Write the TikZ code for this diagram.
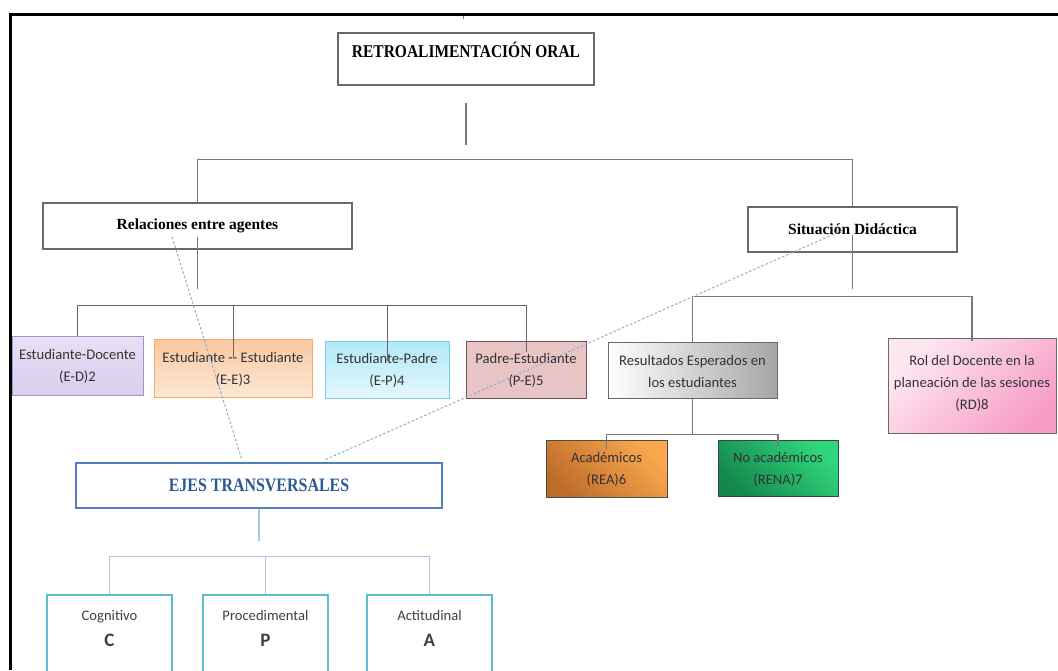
\documentclass[tikz,border=0pt]{standalone}
\usepackage{fontspec}
\setmainfont{Liberation Serif}
\newfontfamily\calib{Carlito}
\newfontfamily\condserif[FakeStretch=0.86]{Liberation Serif}
\newfontfamily\ejesserif[FakeStretch=0.84]{Liberation Serif}
\usetikzlibrary{positioning, calc, backgrounds}
\usepackage{xcolor}
\definecolor{boxgray}{RGB}{105,105,105}
\definecolor{linkgray}{RGB}{120,120,120}
\definecolor{edtop}{RGB}{232,224,244}
\definecolor{edbot}{RGB}{218,204,238}
\definecolor{edline}{RGB}{165,145,205}
\definecolor{eetop}{RGB}{250,200,160}
\definecolor{eebot}{RGB}{253,232,214}
\definecolor{eeline}{RGB}{244,170,110}
\definecolor{eptop}{RGB}{178,233,247}
\definecolor{epbot}{RGB}{228,248,253}
\definecolor{epline}{RGB}{120,205,230}
\definecolor{pefill}{RGB}{232,196,196}
\definecolor{peline}{RGB}{110,82,82}
\definecolor{acadark}{RGB}{190,108,42}
\definecolor{acalight}{RGB}{250,168,78}
\definecolor{nadark}{RGB}{20,135,75}
\definecolor{nalight}{RGB}{48,214,124}
\definecolor{rollight}{RGB}{253,232,242}
\definecolor{roldark}{RGB}{246,158,198}
\definecolor{ejesblue}{RGB}{79,129,189}
\definecolor{ejestext}{RGB}{45,90,145}
\definecolor{axteal}{RGB}{92,188,208}
\definecolor{axlink}{RGB}{172,198,228}
\definecolor{crossblue}{RGB}{138,174,216}

\tikzset{
  headbox/.style={draw=boxgray, line width=1.1pt, fill=white, rectangle, inner sep=0pt, align=center},
  agentbox/.style={rectangle, inner sep=0pt, align=center, text=black!80,
    font=\calib\fontsize{14.6}{22}\selectfont},
  axbox/.style={draw=axteal, line width=2.4pt, fill=white, rectangle, inner sep=0pt, align=center,
    minimum width=125pt, minimum height=100pt, text=black!75, font=\calib\fontsize{14.6}{22}\selectfont},
  link/.style={draw=linkgray, line width=1.3pt},
  thinlink/.style={draw=black!60, line width=0.9pt},
  axline/.style={draw=axlink, line width=1.3pt},
  crossline/.style={draw=crossblue, line width=1pt, dash pattern=on 2.5pt off 2pt}
}

\begin{document}
\begin{tikzpicture}[x=1pt, y=1pt]
  \useasboundingbox (0,0) rectangle (1058,670);
  \fill[white] (0,0) rectangle (1058,670);
  \draw[line width=3pt] (1058,655.3) -- (10.6,655.3) -- (10.6,0);
  \draw[linkgray, line width=0.8pt] (463,654) -- (463,651);

  \node[headbox, minimum width=256pt, minimum height=52pt,
        font=\condserif\bfseries\fontsize{18}{22}\selectfont]
        (retro) at (466,611) {RETROALIMENTACIÓN ORAL\\[-3pt]\mbox{}};
  \node[headbox, minimum width=309pt, minimum height=46pt,
        font=\bfseries\fontsize{15.5}{18}\selectfont]
        (rel) at (197.5,444) {Relaciones entre agentes};
  \node[headbox, minimum width=209pt, minimum height=45pt,
        font=\bfseries\fontsize{15.5}{18}\selectfont]
        (sit) at (852.5,440.5) {Situación Didáctica};

  \node[agentbox, draw=edline, line width=1pt, top color=edtop, bottom color=edbot,
        minimum width=131pt, minimum height=59pt] (ed) at (77.5,303.5) {Estudiante-Docente\\(E-D)2};
  \node[agentbox, draw=eeline, line width=1pt, top color=eetop, bottom color=eebot,
        minimum width=158pt, minimum height=58pt] (ee) at (233,301) {Estudiante -- Estudiante\\(E-E)3};
  \node[agentbox, draw=epline, line width=1pt, top color=eptop, bottom color=epbot,
        minimum width=124pt, minimum height=57pt] (ep) at (387,299.5) {Estudiante-Padre\\(E-P)4};
  \node[agentbox, draw=peline, line width=1pt, fill=pefill,
        minimum width=120pt, minimum height=57pt] (pe) at (526,299.5) {Padre-Estudiante\\(P-E)5};

  \node[agentbox, draw=boxgray, line width=1pt, left color=white, right color=black!35,
        minimum width=169pt, minimum height=56pt] (res) at (692.5,299) {Resultados Esperados en\\los estudiantes};
  \node[agentbox, draw=boxgray, line width=1pt, top color=rollight, bottom color=roldark, shading angle=45,
        minimum width=168pt, minimum height=95pt] (rol) at (972,283.5)
        {Rol del Docente en la\\planeación de las sesiones\\(RD)8\\[-14pt]\mbox{}};
  \node[agentbox, draw=black!70, line width=1pt, top color=acalight, middle color=acalight,
        bottom color=acadark, shading angle=-45,
        minimum width=121pt, minimum height=57pt] (aca) at (606.5,200.5) {Académicos\\(REA)6};
  \node[agentbox, draw=black!75, line width=1pt, top color=nalight, middle color=nalight,
        bottom color=nadark, shading angle=-45,
        minimum width=120pt, minimum height=56pt] (noaca) at (778,201) {No académicos\\(RENA)7};

  \node[headbox, draw=ejesblue, line width=2.4pt, minimum width=366pt, minimum height=45pt,
        text=ejestext, font=\ejesserif\bfseries\fontsize{19}{22}\selectfont]
        (ejes) at (259,184.5) {EJES TRANSVERSALES};

  \node[axbox] (cog) at (109.5,25) {Cognitivo\\[4.5pt]{\bfseries\fontsize{19}{22}\selectfont C}\\[11.5pt]\mbox{}};
  \node[axbox] (pro) at (265.5,25) {Procedimental\\[4.5pt]{\bfseries\fontsize{19}{22}\selectfont P}\\[11.5pt]\mbox{}};
  \node[axbox] (act) at (429.5,25) {Actitudinal\\[4.5pt]{\bfseries\fontsize{19}{22}\selectfont A}\\[11.5pt]\mbox{}};

  \draw[link] ([yshift=-17pt]retro.south) -- ++(0,-42);
  \draw[link] (rel.north) -- ++(0,43) -| (sit.north);
  \draw[link] ([yshift=-11pt]rel.center) -- ++(0,-52);
  \draw[link] ([yshift=-6pt]sit.center) -- ++(0,-54);

  \draw[thinlink] (ed.north) -- ++(0,31) coordinate (rowl) -| ([yshift=-19pt]ee.north);
  \draw[thinlink] (rowl) -| ([yshift=-20pt]ep.north);
  \draw[thinlink] (rowl) -| ([yshift=-11pt]pe.north);

  \draw[link] (res.north) -- ++(0,46) -| ([yshift=-3pt]rol.north);
  \draw[link] (res.south) -- ++(0,-35) coordinate (resbar);
  \draw[link] (resbar) -| ([yshift=-9pt]aca.north);
  \draw[link] (resbar) -| ([yshift=-6pt]noaca.north);

  \draw[axline] (ejes.south) -- ++(0,-32);
  \draw[axline] (pro.north) -- ++(0,37) coordinate (axbar);
  \draw[axline] (axbar) -| (cog.north);
  \draw[axline] (axbar) -| (act.north);

  \draw[crossline] ($(rel.center)+(-25.5,-11)$) -- ($(ejes.north)+(-17,2)$);
  \draw[crossline] ($(sit.center)+(-10.5,-1)$) -- ($(ejes.north)+(66,2)$);
\end{tikzpicture}
\end{document}
